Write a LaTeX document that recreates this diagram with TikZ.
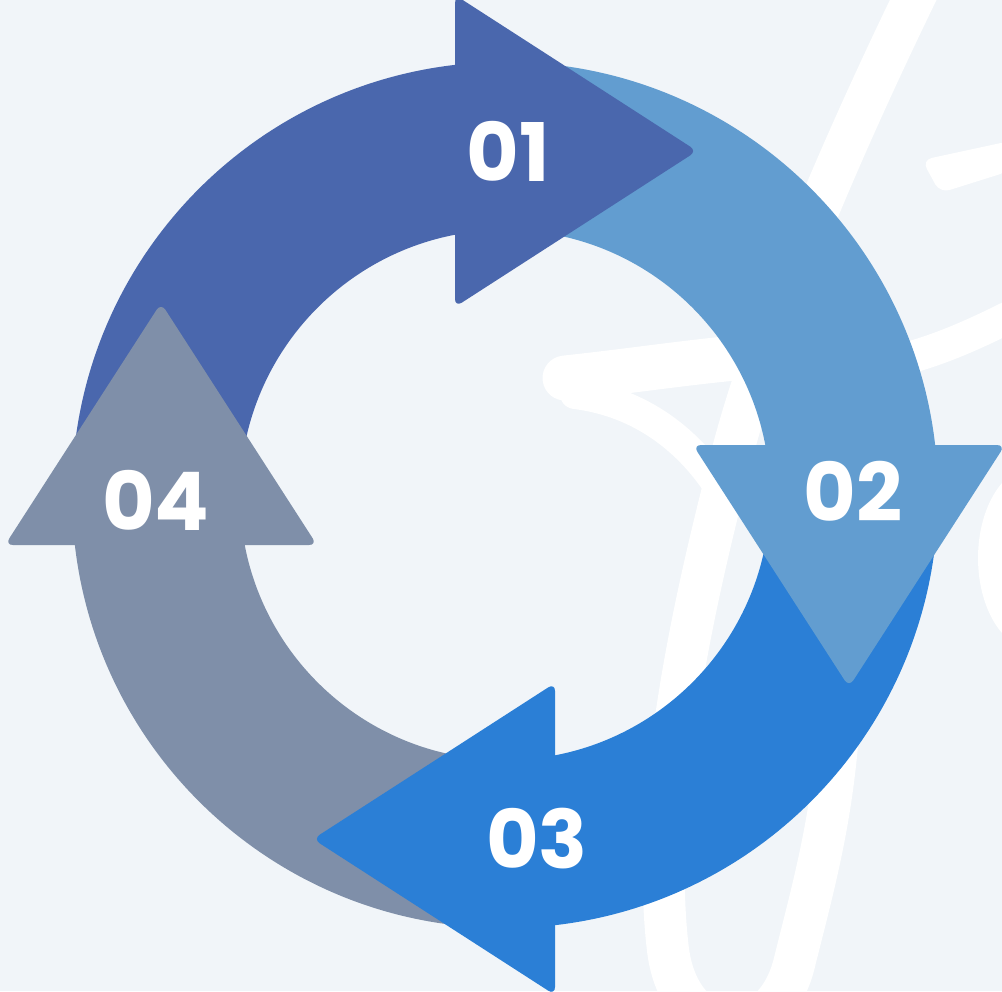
\documentclass[tikz,border=0pt]{standalone}
\usepackage{fontspec}
\newfontfamily\numfont{Poppins}
\definecolor{cycBg}{HTML}{F1F5F9}
\definecolor{cycOne}{HTML}{4A67AD}
\definecolor{cycTwo}{HTML}{629DD0}
\definecolor{cycThree}{HTML}{2B7FD6}
\definecolor{cycFour}{HTML}{7F8FA9}

\begin{document}
\begin{tikzpicture}[
      x=0.1mm,y=-0.1mm,
      ink/.style={draw=white,line width=4.2mm,line cap=round},
      head/.style={rounded corners=0.8mm},
      num/.style={text=white,inner sep=0pt,
                  font=\numfont\bfseries\fontsize{23pt}{23pt}\selectfont}
    ]
    \fill[cycBg] (0,0) rectangle (1002,991);
    \useasboundingbox (0,0) rectangle (1002,991);

    % faint white lettering behind the cycle
    \begin{scope}
      \clip (0,0) rectangle (1002,991);
      \draw[ink] (918,-10) .. controls (845,140) and (762,330) .. (728,470)
                 .. controls (692,610) and (650,800) .. (668,950)
                 .. controls (680,1045) and (775,1050) .. (795,960)
                 .. controls (815,880) and (835,810) .. (840,700);
      \draw[ink,line width=4.5mm] (565,378) .. controls (640,370) and (700,360) .. (780,354);
      \draw[ink,line width=3mm] (575,394) .. controls (640,402) and (690,440) .. (722,492);
      \draw[ink,line width=3.2mm,line cap=butt] (900,360) .. controls (940,350) and (975,334) .. (1015,314);
      \fill[white,rounded corners=1mm] (922,160) -- (1010,141) -- (1010,171) -- (940,193) -- cycle;
      \fill[white] (1035,558) ellipse [x radius=57,y radius=92];
    \end{scope}

    % ring: four quarter bands, then the four heads on top
    \begin{scope}[shift={(505,495)},yscale=-1]
      \foreach \c/\a/\b in {cycOne/180/90,cycTwo/90/0,cycThree/0/-90,cycFour/-90/-180}
        \fill[\c] (\a:433) arc[start angle=\a,end angle=\b,radius=433]
                  -- (\b:265) arc[start angle=\b,end angle=\a,radius=265] -- cycle;
      \foreach \c/\r in {cycOne/0,cycTwo/90,cycThree/180,cycFour/270}
        \fill[\c,head,rotate=\r] (-50,500) -- (192,344) -- (-50,188) -- cycle;
    \end{scope}

    \node[num] (n01) at (508,151) {01};
    \node[num] (n02) at (853,491) {02};
    \node[num] (n03) at (537,839) {03};
    \node[num] (n04) at (156,500) {04};
  \end{tikzpicture}
\end{document}
